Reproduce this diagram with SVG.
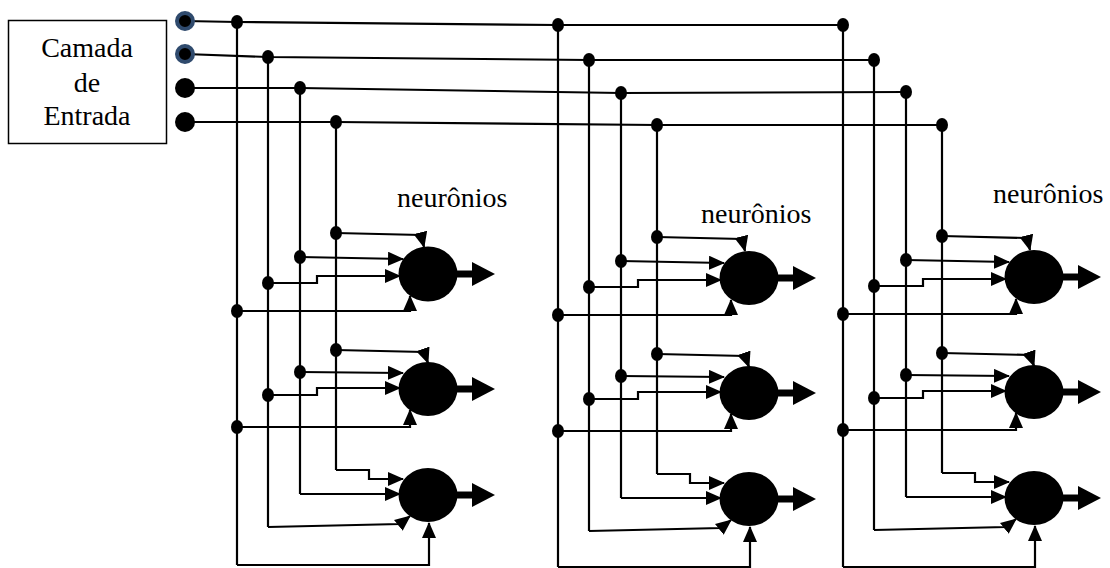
<svg xmlns="http://www.w3.org/2000/svg" width="1110" height="568" viewBox="0 0 1110 568">
<style>
.ln{fill:none;stroke:#000;stroke-width:2.2}
.ar{fill:none;stroke:#000;stroke-width:2.2;marker-end:url(#ah)}
.jd{fill:#000}
.nr{fill:#000}
.out{stroke:#000;stroke-width:7}
.t{font-size:28px;fill:#000}
.box{fill:#fff;stroke:#000;stroke-width:1.5}
.ring{fill:#000;stroke:#2f4a6d;stroke-width:4}
</style>
<defs>
<marker id="ah" markerUnits="userSpaceOnUse" viewBox="0 0 16 14" markerWidth="16" markerHeight="14" refX="15" refY="7" orient="auto">
<path d="M0,0 L16,7 L0,14 Z" fill="#000"/>
</marker>
</defs>
<rect width="1110" height="568" fill="#fff"/>

<g id="input-layer" font-family="'Liberation Serif', 'DejaVu Serif', serif">
<rect class="box" x="8.5" y="20.5" width="158" height="123"/>
<text class="t" x="87" y="57" text-anchor="middle">Camada</text>
<text class="t" x="87" y="92" text-anchor="middle">de</text>
<text class="t" x="87" y="125" text-anchor="middle">Entrada</text>
</g>

<g id="connectors">
<path class="ln" d="M185,21 L237,22 L558,25 L843,25"/>
<path class="ln" d="M185,54 L268,57 L589,60 L874,60"/>
<path class="ln" d="M185,88 L300,88 L621,93 L906,92"/>
<path class="ln" d="M185,122 L336,122 L657,125 L942,125"/>
<path class="ln" d="M237,22V565 M268,57V527 M300,88V494 M336,122V470"/>
<path class="ln" d="M558,25V567 M589,60V531 M621,93V498 M657,125V474"/>
<path class="ln" d="M843,25V567 M874,60V530 M906,92V497 M942,125V473"/>

<path class="ar" d="M336,233 L421,235 L424,247"/>
<path class="ar" d="M300,257 L403,259"/>
<path class="ar" d="M268,283 H317 V276 H400"/>
<path class="ar" d="M237,311 H410 V296"/>
<path class="ar" d="M336,350 L424,352 L428,363"/>
<path class="ar" d="M300,372 L403,373"/>
<path class="ar" d="M268,395 H317 V388 H400"/>
<path class="ar" d="M237,427 H410 V410"/>
<path class="ar" d="M336,470 H369 V479 H403"/>
<path class="ar" d="M300,494 H400"/>
<path class="ar" d="M268,527 L400,524 L410,516"/>
<path class="ar" d="M237,565 H429 V523"/>

<path class="ar" d="M657,237 L742,239 L745,251"/>
<path class="ar" d="M621,261 L724,263"/>
<path class="ar" d="M589,287 H638 V280 H721"/>
<path class="ar" d="M558,315 H731 V300"/>
<path class="ar" d="M657,354 L745,356 L749,367"/>
<path class="ar" d="M621,376 L724,377"/>
<path class="ar" d="M589,399 H638 V392 H721"/>
<path class="ar" d="M558,431 H731 V414"/>
<path class="ar" d="M657,474 H690 V483 H724"/>
<path class="ar" d="M621,498 H721"/>
<path class="ar" d="M589,531 L721,528 L731,520"/>
<path class="ar" d="M558,567 H750 V527"/>

<path class="ar" d="M942,236 L1027,238 L1030,250"/>
<path class="ar" d="M906,260 L1009,262"/>
<path class="ar" d="M874,286 H923 V279 H1006"/>
<path class="ar" d="M843,314 H1016 V299"/>
<path class="ar" d="M942,353 L1030,355 L1034,366"/>
<path class="ar" d="M906,375 L1009,376"/>
<path class="ar" d="M874,398 H923 V391 H1006"/>
<path class="ar" d="M843,430 H1016 V413"/>
<path class="ar" d="M942,473 H975 V482 H1009"/>
<path class="ar" d="M906,497 H1006"/>
<path class="ar" d="M874,530 L1006,527 L1016,519"/>
<path class="ar" d="M843,567 H1035 V526"/>

<g class="jd">
<ellipse cx="237" cy="22" rx="6" ry="7"/>
<ellipse cx="268" cy="57" rx="6" ry="7"/>
<ellipse cx="300" cy="88" rx="6" ry="7"/>
<ellipse cx="336" cy="122" rx="6" ry="7"/>
<ellipse cx="558" cy="25" rx="6" ry="7"/>
<ellipse cx="589" cy="60" rx="6" ry="7"/>
<ellipse cx="621" cy="93" rx="6" ry="7"/>
<ellipse cx="657" cy="125" rx="6" ry="7"/>
<ellipse cx="843" cy="25" rx="6" ry="7"/>
<ellipse cx="874" cy="60" rx="6" ry="7"/>
<ellipse cx="906" cy="92" rx="6" ry="7"/>
<ellipse cx="942" cy="125" rx="6" ry="7"/>
<ellipse cx="336" cy="233" rx="6" ry="7"/>
<ellipse cx="300" cy="257" rx="6" ry="7"/>
<ellipse cx="268" cy="283" rx="6" ry="7"/>
<ellipse cx="237" cy="311" rx="6" ry="7"/>
<ellipse cx="336" cy="350" rx="6" ry="7"/>
<ellipse cx="300" cy="372" rx="6" ry="7"/>
<ellipse cx="268" cy="395" rx="6" ry="7"/>
<ellipse cx="237" cy="427" rx="6" ry="7"/>
<ellipse cx="657" cy="237" rx="6" ry="7"/>
<ellipse cx="621" cy="261" rx="6" ry="7"/>
<ellipse cx="589" cy="287" rx="6" ry="7"/>
<ellipse cx="558" cy="315" rx="6" ry="7"/>
<ellipse cx="657" cy="354" rx="6" ry="7"/>
<ellipse cx="621" cy="376" rx="6" ry="7"/>
<ellipse cx="589" cy="399" rx="6" ry="7"/>
<ellipse cx="558" cy="431" rx="6" ry="7"/>
<ellipse cx="942" cy="236" rx="6" ry="7"/>
<ellipse cx="906" cy="260" rx="6" ry="7"/>
<ellipse cx="874" cy="286" rx="6" ry="7"/>
<ellipse cx="843" cy="314" rx="6" ry="7"/>
<ellipse cx="942" cy="353" rx="6" ry="7"/>
<ellipse cx="906" cy="375" rx="6" ry="7"/>
<ellipse cx="874" cy="398" rx="6" ry="7"/>
<ellipse cx="843" cy="430" rx="6" ry="7"/>
</g>
</g>

<g id="inputs">
<circle class="ring" cx="185" cy="21" r="8"/>
<circle class="ring" cx="185" cy="54" r="8"/>
<circle cx="185" cy="88" r="10" fill="#000"/>
<circle cx="185" cy="122" r="10" fill="#000"/>
</g>

<g id="labels" font-family="'Liberation Serif', 'DejaVu Serif', serif">
<text class="t" x="397" y="207">neurônios</text>
<text class="t" x="701" y="223">neurônios</text>
<text class="t" x="993" y="203">neurônios</text>
</g>

<g id="n1-1"><ellipse class="nr" cx="428" cy="274" rx="29.5" ry="27.5"/><line class="out" x1="456" y1="274" x2="474" y2="274"/><polygon points="472,262 495,274 472,286"/></g>
<g id="n1-2"><ellipse class="nr" cx="428" cy="389" rx="29.5" ry="27"/><line class="out" x1="456" y1="389" x2="474" y2="389"/><polygon points="472,377 495,389 472,401"/></g>
<g id="n1-3"><ellipse class="nr" cx="428" cy="495" rx="29.5" ry="27"/><line class="out" x1="456" y1="495" x2="474" y2="495"/><polygon points="472,483 495,495 472,507"/></g>
<g id="n2-1"><ellipse class="nr" cx="749" cy="278" rx="29.5" ry="27"/><line class="out" x1="777" y1="278" x2="795" y2="278"/><polygon points="793,266 816,278 793,290"/></g>
<g id="n2-2"><ellipse class="nr" cx="749" cy="393" rx="29.5" ry="27"/><line class="out" x1="777" y1="393" x2="795" y2="393"/><polygon points="793,381 816,393 793,405"/></g>
<g id="n2-3"><ellipse class="nr" cx="749" cy="499" rx="29.5" ry="27"/><line class="out" x1="777" y1="499" x2="795" y2="499"/><polygon points="793,487 816,499 793,511"/></g>
<g id="n3-1"><ellipse class="nr" cx="1034" cy="277" rx="29.5" ry="27"/><line class="out" x1="1062" y1="277" x2="1080" y2="277"/><polygon points="1078,265 1101,277 1078,289"/></g>
<g id="n3-2"><ellipse class="nr" cx="1034" cy="392" rx="29.5" ry="27"/><line class="out" x1="1062" y1="392" x2="1080" y2="392"/><polygon points="1078,380 1101,392 1078,404"/></g>
<g id="n3-3"><ellipse class="nr" cx="1034" cy="498" rx="29.5" ry="27"/><line class="out" x1="1062" y1="498" x2="1080" y2="498"/><polygon points="1078,486 1101,498 1078,510"/></g>
</svg>
